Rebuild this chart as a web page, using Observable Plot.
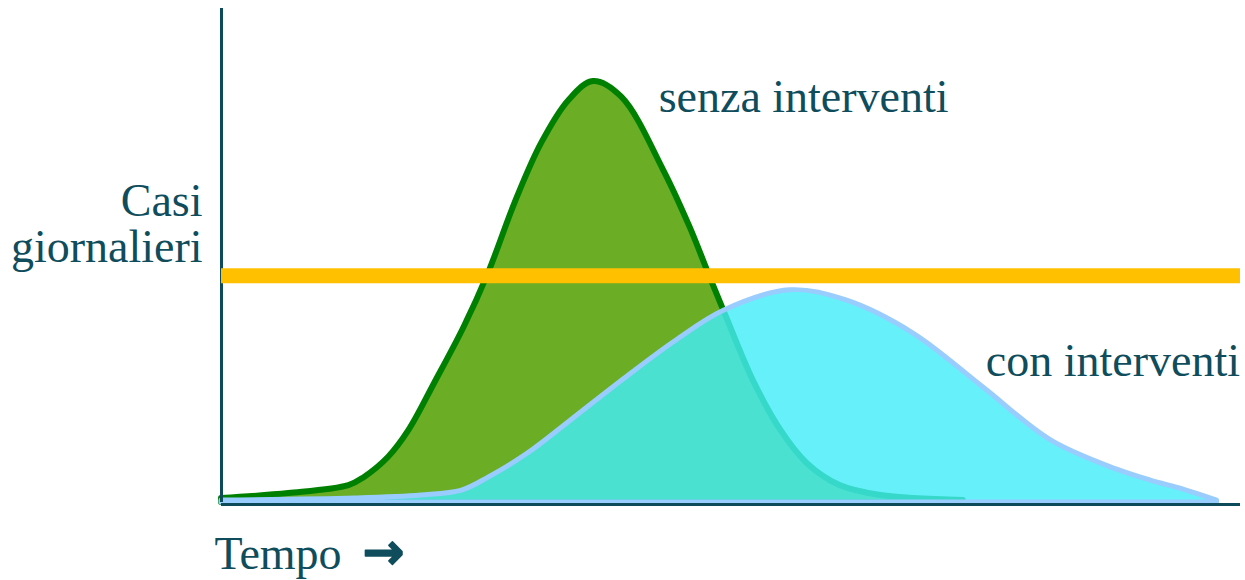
<!DOCTYPE html>
<html>
<head>
<meta charset="utf-8">
<script src="https://cdn.jsdelivr.net/npm/d3@7"></script>
<script src="https://cdn.jsdelivr.net/npm/@observablehq/plot@0.6"></script>
<style>
  html, body { margin: 0; padding: 0; background: #ffffff; }
  #chart svg { display: block; overflow: visible; }
</style>
</head>
<body>
<div id="chart"></div>
<script>
// Time (arbitrary units) and daily cases (arbitrary units)
const senzaTime  = [0, 6.6, 12.5, 14.0, 16.4, 18.4, 20.9, 23.8, 26.2, 28.8, 31.4, 34.1, 36.5, 39.3, 43.4, 46.0, 47.8, 49.7, 52.2, 54.9, 57.5, 60.7, 64.7, 72.8];
const senzaCases = [0.8, 1.8, 3.4, 5.0, 9.1, 14.5, 23.9, 35.2, 46.1, 60.2, 72.2, 80.9, 84.7, 81.5, 66.8, 55.3, 46.1, 36.6, 24.5, 14.5, 7.8, 3.4, 1.4, 0.4];

const conTime  = [0, 13.1, 19.6, 23.6, 26.2, 30.1, 34.3, 39.3, 44.5, 49.3, 55.8, 61.4, 67.9, 74.8, 81.4, 87.9, 91.2, 94.4, 97.7];
const conCases = [0.4, 0.8, 1.4, 2.4, 5.0, 9.9, 16.5, 24.5, 32.4, 38.6, 42.7, 40.6, 34.0, 23.1, 12.5, 6.6, 4.4, 2.6, 0.4];

const capacity = [45.6];   // capacità del sistema sanitario

const labels = {
  senza: "senza interventi",
  con: "con interventi",
  yTitle: "Casi\ngiornalieri",
  xTitle: "Tempo",
  arrow: "→"
};

const senza = senzaTime.map((t, i) => ({t, v: senzaCases[i]}));
const con = conTime.map((t, i) => ({t, v: conCases[i]}));

const textColor = "#0f4d5c";
const serif = "Liberation Serif, Times New Roman, serif";

const chart = Plot.plot({
  width: 1245,
  height: 580,
  marginLeft: 221,
  marginRight: 5,
  marginTop: 5,
  marginBottom: 78,
  x: {domain: [0, 100], axis: null},
  y: {domain: [0, 100], axis: null},
  style: {background: "#ffffff", fontFamily: serif},
  marks: [
    Plot.areaY(senza, {x: "t", y: "v", curve: "catmull-rom", fill: "#6bad24", stroke: "#008000", strokeWidth: 6, strokeLinejoin: "round"}),
    Plot.areaY(con, {x: "t", y: "v", curve: "catmull-rom", fill: "#42ecf9", fillOpacity: 0.81, stroke: "#99ccff", strokeWidth: 5, strokeLinejoin: "round"}),
    Plot.ruleX([0], {y1: 0, y2: 100, stroke: "#0d4a5a", strokeWidth: 3, insetBottom: -3}),
    Plot.ruleY([0], {x1: 0, x2: 100, stroke: "#0d4a5a", strokeWidth: 3, dy: 2}),
    Plot.ruleY(capacity, {x1: 0, x2: 100, stroke: "#ffc000", strokeWidth: 15}),
    Plot.text([labels.senza], {x: 42.9, y: 78.5, text: d => d, textAnchor: "start", lineAnchor: "bottom", fontSize: 46, fill: textColor, fontFamily: serif}),
    Plot.text([labels.con], {x: 75.0, y: 25.4, text: d => d, textAnchor: "start", lineAnchor: "bottom", fontSize: 46, fill: textColor, fontFamily: serif}),
    Plot.text([labels.yTitle], {frameAnchor: "left", y: 48.3, text: d => d, dx: -19, textAnchor: "end", lineAnchor: "bottom", lineHeight: 1, fontSize: 46, fill: textColor, fontFamily: serif}),
    Plot.text([labels.xTitle], {frameAnchor: "bottom-left", text: d => d, dx: -7, dy: 66, textAnchor: "start", lineAnchor: "bottom", fontSize: 46, fill: textColor, fontFamily: serif}),
    Plot.text([labels.arrow], {frameAnchor: "bottom-left", text: d => d, dx: 141, dy: 66, textAnchor: "start", lineAnchor: "bottom", fontSize: 50, fontWeight: "bold", fill: textColor, fontFamily: "DejaVu Sans", stroke: textColor, strokeWidth: 1.5})
  ]
});

document.getElementById("chart").appendChild(chart);
</script>
</body>
</html>
